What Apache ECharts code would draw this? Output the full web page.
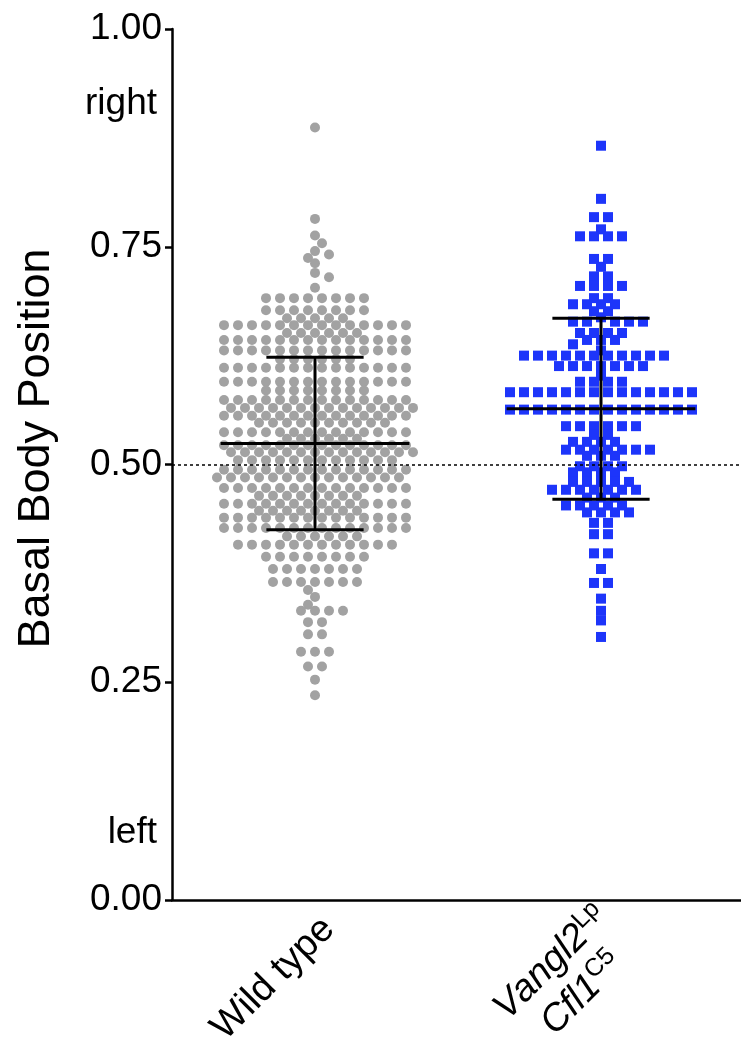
<!DOCTYPE html>
<html>
<head>
<meta charset="utf-8">
<style>
html, body { margin: 0; padding: 0; background: #fff; }
#main { width: 741px; height: 1041px; }
</style>
</head>
<body>
<div id="main"></div>
<script src="https://cdn.jsdelivr.net/npm/echarts@6/dist/echarts.min.js"></script>
<script type="text/javascript">

    // categories
    var groups = ['Wild type', 'Vangl2Lp Cfl1C5'];

    // each row of the dot plot: [value, number of dots at that value]
    var wtRows = [
        [0.887, 1], [0.782, 1], [0.763, 1], [0.754, 1], [0.745, 1], [0.741, 1], [0.737, 1], [0.731, 1],
        [0.720, 1], [0.715, 1], [0.703, 1],
        [0.691, 8], [0.677, 8], [0.668, 5], [0.660, 14], [0.651, 6], [0.643, 14], [0.631, 14], [0.621, 6],
        [0.611, 14], [0.595, 14], [0.585, 8], [0.574, 14], [0.565, 14], [0.556, 14], [0.548, 10],
        [0.537, 14], [0.5295, 6], [0.522, 14], [0.514, 14], [0.505, 12], [0.494, 14], [0.485, 14],
        [0.473, 14], [0.464, 8], [0.455, 14], [0.447, 8], [0.439, 14], [0.427, 14], [0.4175, 6], [0.408, 12],
        [0.394, 8], [0.380, 7], [0.365, 7], [0.356, 1], [0.348, 1], [0.339, 1], [0.332, 4], [0.319, 2],
        [0.305, 2], [0.285, 3], [0.268, 2], [0.253, 1], [0.235, 1]
    ];
    var mutRows = [
        [0.866, 1], [0.805, 1], [0.784, 2], [0.770, 1], [0.762, 4], [0.736, 2], [0.727, 1], [0.716, 2],
        [0.705, 4], [0.691, 2], [0.684, 4], [0.676, 2], [0.669, 1], [0.664, 5], [0.651, 4], [0.643, 3],
        [0.638, 1], [0.631, 1], [0.625, 11], [0.613, 7], [0.602, 1], [0.595, 4], [0.583, 14], [0.563, 14],
        [0.544, 6], [0.534, 2], [0.526, 4], [0.517, 7], [0.510, 3], [0.498, 4], [0.491, 4], [0.480, 5],
        [0.471, 7], [0.462, 3], [0.453, 5], [0.445, 4], [0.433, 2], [0.420, 2], [0.398, 2], [0.380, 1],
        [0.364, 2], [0.346, 1], [0.332, 1], [0.321, 1], [0.302, 1]
    ];

    // mean and SD
    var means = [0.524, 0.564];
    var sds = [0.099, 0.104];

    var sideLabels = ['right', 'left'];
    var sideValues = [0.913, 0.077];

    var GRID_LEFT = 172, GRID_TOP = 29, GRID_RIGHT = -3, GRID_BOTTOM = 141;
    var W = 741, H = 1041;
    var xScale = (W - GRID_LEFT - GRID_RIGHT) / 2;   // px per x unit
    var yScale = H - GRID_TOP - GRID_BOTTOM;         // px per y unit
    var PITCH = 14, MIN_DIST = 8.5;

    // simple beeswarm: rows are spread sideways, pushed out where they hit dots already placed
    function swarm(rows, center) {
        var placed = [];
        var out = [];
        var sorted = rows.slice().sort(function (a, b) { return b[0] - a[0]; });
        sorted.forEach(function (r, ri) {
            var v = r[0], n = r[1], ypx = v * yScale;
            var side = ri % 2 ? 1 : -1;
            var best = null;
            var pars = n % 2 ? [0, 0.5] : [0.5, 0];
            pars.forEach(function (par) {
                var cand = [];
                for (var k = 0; k < 30; k++) {
                    var off = (k + par) * PITCH;
                    if (off === 0) cand.push(0);
                    else { cand.push(side * off); cand.push(-side * off); }
                }
                var trial = [];
                for (var i = 0; i < n; i++) {
                    for (var c = 0; c < cand.length; c++) {
                        var x = cand[c], hit = false;
                        var all = placed.concat(trial);
                        for (var j = 0; j < all.length; j++) {
                            var dx = all[j].x - x, dy = all[j].y - ypx;
                            if (dx * dx + dy * dy < MIN_DIST * MIN_DIST) { hit = true; break; }
                        }
                        if (!hit) { trial.push({ x: x, y: ypx }); break; }
                    }
                }
                var score = 0;
                trial.forEach(function (p) { score += Math.abs(p.x); });
                if (!best || score < best.score) best = { score: score, pts: trial };
            });
            best.pts.forEach(function (p) {
                placed.push(p);
                out.push([center + p.x / xScale, v]);
            });
        });
        return out;
    }

    var wtPoints = swarm(wtRows, 1);
    var mutPoints = swarm(mutRows, 2);
    var barData = [[1, means[0], sds[0]], [2, means[1], sds[1]]];

    var MEAN_HALF = 0.33, CAP_HALF = 0.17;
    var font = 'Liberation Sans, Arial, sans-serif';

    var myChart = echarts.init(document.getElementById('main'));

    var option = {
        animation: false,
        backgroundColor: '#fff',
        textStyle: { fontFamily: font },
        grid: {
            left: GRID_LEFT, top: GRID_TOP, right: GRID_RIGHT, bottom: GRID_BOTTOM,
            containLabel: false,
            outerBoundsMode: 'none'
        },
        xAxis: [{
            type: 'category',
            data: [
                groups[0],
                { value: groups[1], textStyle: { verticalAlign: 'middle', padding: [48, 0, 0, 0] } }
            ],
            boundaryGap: true,
            axisLine: { lineStyle: { color: '#000', width: 2.5 } },
            axisTick: { alignWithLabel: true, length: 8, lineStyle: { color: '#000', width: 2.5 } },
            axisLabel: {
                rotate: 45,
                margin: 10,
                fontSize: 38,
                color: '#000',
                fontFamily: font,
                verticalAlign: 'top',
                formatter: function (v, i) {
                    if (i === 0) return v;
                    return '{i|Vangl2}{s|Lp}\n{i|Cfl1}{s|C5}';
                },
                rich: {
                    i: { fontSize: 38, lineHeight: 44, fontStyle: 'italic', color: '#000', fontFamily: font, align: 'center' },
                    s: { fontSize: 25, lineHeight: 44, color: '#000', fontFamily: font, align: 'center', padding: [0, 0, 18, 0] }
                }
            },
            splitLine: { show: false }
        }, {
            type: 'value',
            min: 0.5,
            max: 2.5,
            show: false
        }],
        yAxis: {
            type: 'value',
            min: 0,
            max: 1,
            interval: 0.25,
            name: 'Basal Body Position',
            nameLocation: 'middle',
            nameRotate: 90,
            nameGap: 113,
            nameTextStyle: { fontSize: 45, color: '#000', fontFamily: font, padding: [0, 0, 0, 32] },
            axisLine: { show: true, lineStyle: { color: '#000', width: 2.5 } },
            axisTick: { show: true, length: 7, lineStyle: { color: '#000', width: 2.5 } },
            axisLabel: {
                fontSize: 37,
                color: '#000',
                margin: 10,
                fontFamily: font,
                formatter: function (v) { return v.toFixed(2); }
            },
            splitLine: { show: false }
        },
        series: [{
            name: groups[0],
            type: 'scatter',
            xAxisIndex: 1,
            symbol: 'circle',
            symbolSize: 10,
            itemStyle: { color: '#a2a2a2', opacity: 1 },
            data: wtPoints,
            z: 2
        }, {
            name: groups[1],
            type: 'scatter',
            xAxisIndex: 1,
            symbol: 'rect',
            symbolSize: 10,
            itemStyle: { color: '#1d35fa', opacity: 1 },
            data: mutPoints,
            z: 2
        }, {
            type: 'custom',
            xAxisIndex: 1,
            data: barData,
            encode: { x: 0, y: 1 },
            z: 5,
            renderItem: function (params, api) {
                var x = api.value(0), m = api.value(1), s = api.value(2);
                var a = api.coord([x - MEAN_HALF, m]), b = api.coord([x + MEAN_HALF, m]);
                var t = api.coord([x, m + s]), d = api.coord([x, m - s]);
                var c1 = api.coord([x - CAP_HALF, m + s]), c2 = api.coord([x + CAP_HALF, m + s]);
                var c3 = api.coord([x - CAP_HALF, m - s]), c4 = api.coord([x + CAP_HALF, m - s]);
                var st = { stroke: '#000', lineWidth: 3 };
                return {
                    type: 'group',
                    children: [
                        { type: 'line', shape: { x1: a[0], y1: a[1], x2: b[0], y2: b[1] }, style: st },
                        { type: 'line', shape: { x1: t[0], y1: t[1], x2: d[0], y2: d[1] }, style: st },
                        { type: 'line', shape: { x1: c1[0], y1: c1[1], x2: c2[0], y2: c2[1] }, style: st },
                        { type: 'line', shape: { x1: c3[0], y1: c3[1], x2: c4[0], y2: c4[1] }, style: st }
                    ]
                };
            },
            markLine: {
                silent: true,
                symbol: 'none',
                label: { show: false },
                lineStyle: { color: '#000', type: [3, 3], width: 1.5 },
                data: [{ yAxis: 0.5 }]
            }
        }]
    };
    myChart.setOption(option);

    // "right" / "left" notes next to the axis
    var notes = [];
    sideLabels.forEach(function (txt, i) {
        var py = myChart.convertToPixel({ yAxisIndex: 0 }, sideValues[i]);
        notes.push({
            type: 'text',
            right: W - 157,
            top: py - 19,
            style: { text: txt, fill: '#000', font: '37px ' + font }
        });
    });
    myChart.setOption({ graphic: notes });
</script>
</body>
</html>
